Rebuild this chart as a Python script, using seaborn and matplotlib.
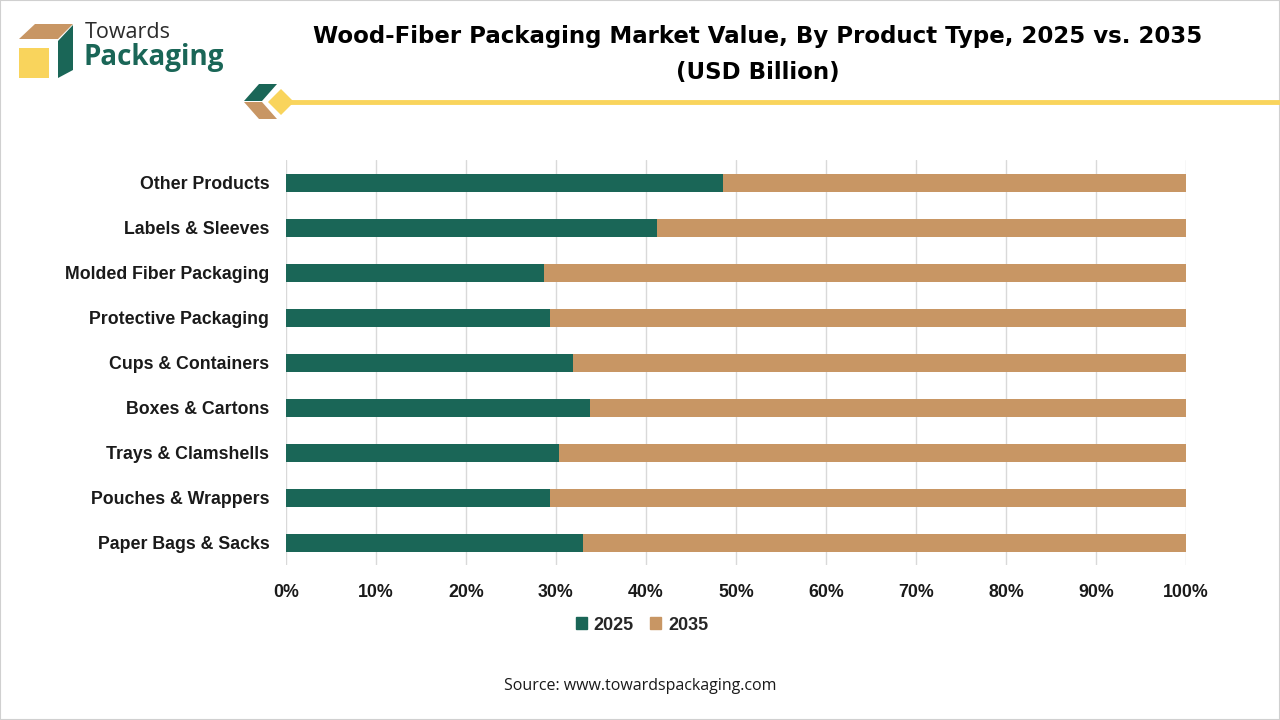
import numpy as np
import pandas as pd
import seaborn as sns
from matplotlib import pyplot as plt
from matplotlib.patches import Polygon, Rectangle, Patch
from matplotlib.ticker import PercentFormatter

# share of each product type (percent of the 2025 + 2035 total)
products = ['Other Products', 'Labels & Sleeves', 'Molded Fiber Packaging',
            'Protective Packaging', 'Cups & Containers', 'Boxes & Cartons',
            'Trays & Clamshells', 'Pouches & Wrappers', 'Paper Bags & Sacks']
share_2025 = [48.5, 41.2, 28.7, 29.3, 31.9, 33.8, 30.3, 29.3, 33.0]
share_2035 = [51.5, 58.8, 71.3, 70.7, 68.1, 66.2, 69.7, 70.7, 67.0]
years = ['2025', '2035']

GREEN = '#1A6657'
TAN = '#C89664'
YELLOW = '#F9D45C'

sns.set_theme(style='white')
plt.rcParams['font.family'] = ['Liberation Sans', 'DejaVu Sans']

df = pd.DataFrame({'product': products, 'y2025': share_2025, 'y2035': share_2035})
df['total'] = df['y2025'] + df['y2035']

W, H = 1280, 720
fig = plt.figure(figsize=(12.8, 7.2), dpi=100)


def fx(px):
    return px / W


def fy(py):
    return 1 - py / H


ax = fig.add_axes([fx(286), fy(565), fx(1186) - fx(286), fy(160) - fy(565)])

# stacked: full bar in tan, 2025 part on top in green
sns.barplot(data=df, x='total', y='product', color=TAN, width=0.4,
            saturation=1, linewidth=0, ax=ax, zorder=2)
sns.barplot(data=df, x='y2025', y='product', color=GREEN, width=0.4,
            saturation=1, linewidth=0, ax=ax, zorder=3)

ax.set_xlim(0, 100)
ax.set_xticks(np.arange(0, 101, 10))
ax.xaxis.set_major_formatter(PercentFormatter(decimals=0))
ax.grid(axis='x', color='#D9D9D9', linewidth=1, zorder=0)
ax.set_axisbelow(True)
for s in ax.spines.values():
    s.set_visible(False)
ax.set_xlabel('')
ax.set_ylabel('')
ax.tick_params(axis='both', length=0)
ax.tick_params(axis='y', pad=12)
ax.tick_params(axis='x', pad=14)
for lab in ax.get_yticklabels():
    lab.set_fontweight('bold')
    lab.set_fontsize(12.8)
    lab.set_color('#1a1a1a')
for lab in ax.get_xticklabels():
    lab.set_fontweight('bold')
    lab.set_fontsize(12.8)
    lab.set_color('#1a1a1a')

handles = [Patch(color=GREEN), Patch(color=TAN)]
fig.legend(handles, years, loc='center', bbox_to_anchor=(fx(642), fy(625)),
           ncol=2, frameon=False, handlelength=0.6, handleheight=0.6,
           handletextpad=0.4, columnspacing=0.9,
           prop={'weight': 'bold', 'size': 13})

# title
fig.text(fx(758), fy(37), 'Wood-Fiber Packaging Market Value, By Product Type, 2025 vs. 2035',
         ha='center', va='center', fontsize=16.5, fontweight='bold', color='black',
         family=['DejaVu Sans'])
fig.text(fx(758), fy(72), '(USD Billion)', ha='center', va='center',
         fontsize=16.5, fontweight='bold', color='black', family=['DejaVu Sans'])

# source
fig.text(fx(640), fy(686), 'Source: www.towardspackaging.com', ha='center',
         va='center', fontsize=11.5, color='#1a1a1a', family=['Open Sans', 'DejaVu Sans'])

# logo
def poly(pts, color):
    fig.patches.append(Polygon([(fx(x), fy(y)) for x, y in pts], closed=True,
                               facecolor=color, edgecolor='none',
                               transform=fig.transFigure))

poly([(19, 48), (49, 48), (49, 78), (19, 78)], YELLOW)
poly([(35, 24), (73, 24), (58, 39), (19, 39)], TAN)
poly([(58, 41), (73, 25), (73, 70), (58, 78)], GREEN)
fig.text(fx(85), fy(32), 'Towards', ha='left', va='center', fontsize=15.5,
         color='#2b2b2b', family=['Open Sans', 'DejaVu Sans'])
fig.text(fx(84), fy(58), 'Packaging', ha='left', va='center', fontsize=20,
         fontweight='bold', color=GREEN, family=['Open Sans', 'DejaVu Sans'])

# title decoration
fig.add_artist(plt.Line2D([fx(290), fx(1280)], [fy(102), fy(102)],
                          color=YELLOW, linewidth=3.5, transform=fig.transFigure))
poly([(244, 101), (259, 84), (277, 84), (262, 101)], GREEN)
poly([(244, 102), (262, 102), (277, 119), (259, 119)], TAN)
poly([(281, 89), (294, 102), (281, 115), (268, 102)], YELLOW)

# frame
fig.patches.append(Rectangle((0, 0), 1, 1, transform=fig.transFigure,
                             facecolor='none', edgecolor='#D0D0D0', linewidth=1.5))

fig.savefig('out.png', dpi=100)
